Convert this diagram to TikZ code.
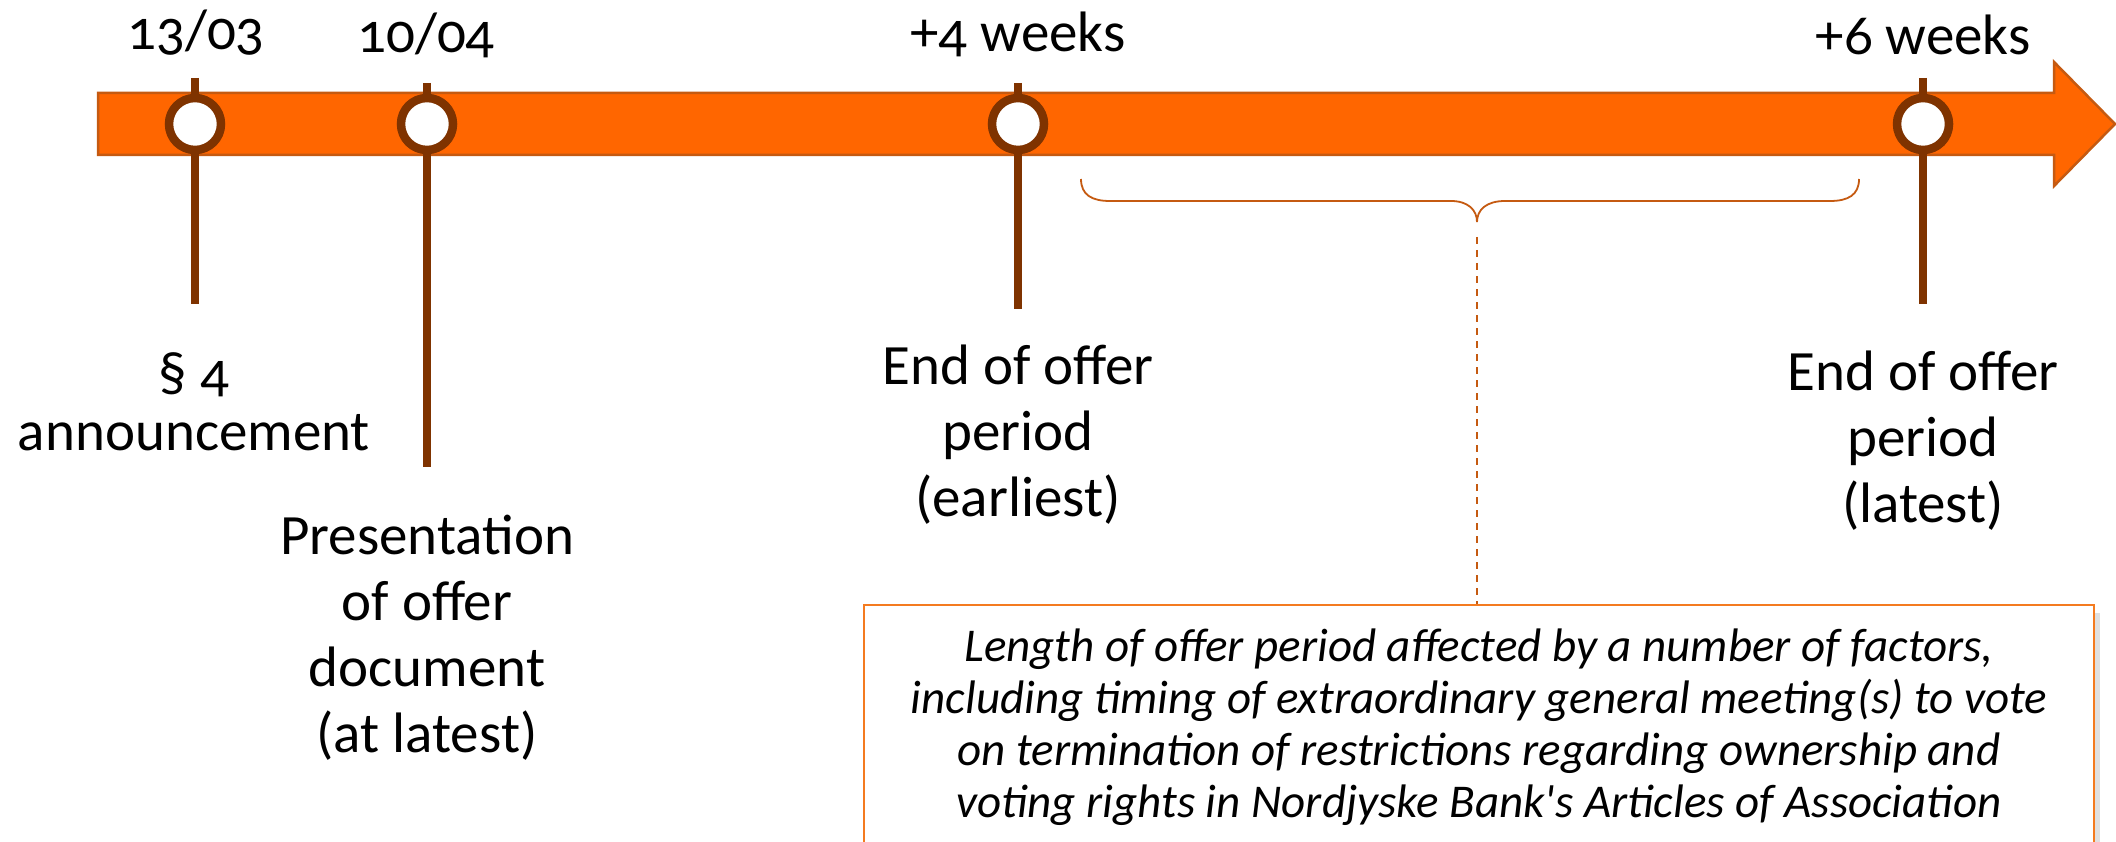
\documentclass[tikz,border=0pt]{standalone}
\usepackage{fontspec}
\setmainfont{Carlito}[Numbers=OldStyle]
\definecolor{orng}{HTML}{FF6600}
\definecolor{orngdark}{HTML}{C55A11}
\definecolor{brn}{HTML}{7F3300}
\definecolor{boxline}{HTML}{F47B20}
\begin{document}
\begin{tikzpicture}[x=1pt,y=-1pt,
  stem/.style={draw=brn,line width=8pt},
  evt/.style={circle,draw=brn,line width=8.5pt,fill=white,minimum size=52pt,inner sep=0pt},
  datelbl/.style={font=\fontsize{57}{66}\selectfont,anchor=base,inner sep=0pt},
  lbl/.style={font=\fontsize{57}{66}\selectfont,align=center,inner sep=0pt},
  brace/.style={draw=orngdark,line width=1.8pt},
  conn/.style={draw=orngdark,line width=2pt,dash pattern=on 7pt off 6pt},
  notebox/.style={draw=boxline,line width=2.5pt,fill=white,minimum width=1230pt,minimum height=245pt,inner sep=0pt,align=center,font=\fontsize{47}{52}\selectfont\itshape}]
\useasboundingbox (0,0) rectangle (2116,842);
\clip (0,0) rectangle (2116,842);
\fill[white] (0,0) rectangle (2116,842);
% timeline arrow
\draw[fill=orng,draw=orngdark,line width=2.5pt,line join=miter]
  (98,93) -- (2054,93) -- (2054,62) -- (2115,124) -- (2054,186) -- (2054,155) -- (98,155) -- cycle;
% event markers
\node[evt] (e1) at (195,124) {};
\node[evt] (e2) at (427,124) {};
\node[evt] (e3) at (1018,124) {};
\node[evt] (e4) at (1923,124) {};
\coordinate (t1) at (195,78);  \coordinate (b1) at (195,304);
\coordinate (t2) at (427,83);  \coordinate (b2) at (427,467);
\coordinate (t3) at (1018,83); \coordinate (b3) at (1018,309);
\coordinate (t4) at (1923,78); \coordinate (b4) at (1923,304);
\foreach \i in {1,2,3,4}{
  \draw[stem] (t\i) -- (e\i);
  \draw[stem] (e\i) -- (b\i);
}
% dates
\node[datelbl] (d1) at (196,50) {13/03};
\node[datelbl] (d2) at (426,53) {10/04};
\node[datelbl] (d3) at (1018,52) {+4 weeks};
\node[datelbl] (d4) at (1923,55) {+6 weeks};
% labels
\node[lbl,font=\fontsize{57}{59}\selectfont] (l1) at (194,402) {§ 4\\announcement};
\node[lbl] (l2) at (427,638) {Presentation\\of offer\\document\\(at latest)};
\node[lbl] (l3) at (1018,435) {End of offer\\period\\(earliest)};
\node[lbl] (l4) at (1923,441) {End of offer\\period\\(latest)};
% brace
\draw[brace] (1081,179) .. controls (1081,195) and (1092,201) .. (1110,201)
  -- (1451,201) .. controls (1468,201) and (1477,210) .. (1477,222)
  .. controls (1477,210) and (1486,201) .. (1505,201)
  -- (1830,201) .. controls (1848,201) and (1859,195) .. (1859,179);
\coordinate (dtop) at (1477,237);
% note box
\fill[black!12] (872,613) rectangle (2100,860);
\node[notebox] (note) at (1479,727.5) {Length of offer period affected by a number of factors,\\including timing of extraordinary general meeting(s) to vote\\on termination of restrictions regarding ownership and\\voting rights in Nordjyske Bank\textquotesingle s Articles of Association};
\draw[conn] (dtop) -- (dtop |- note.north);
\end{tikzpicture}
\end{document}
